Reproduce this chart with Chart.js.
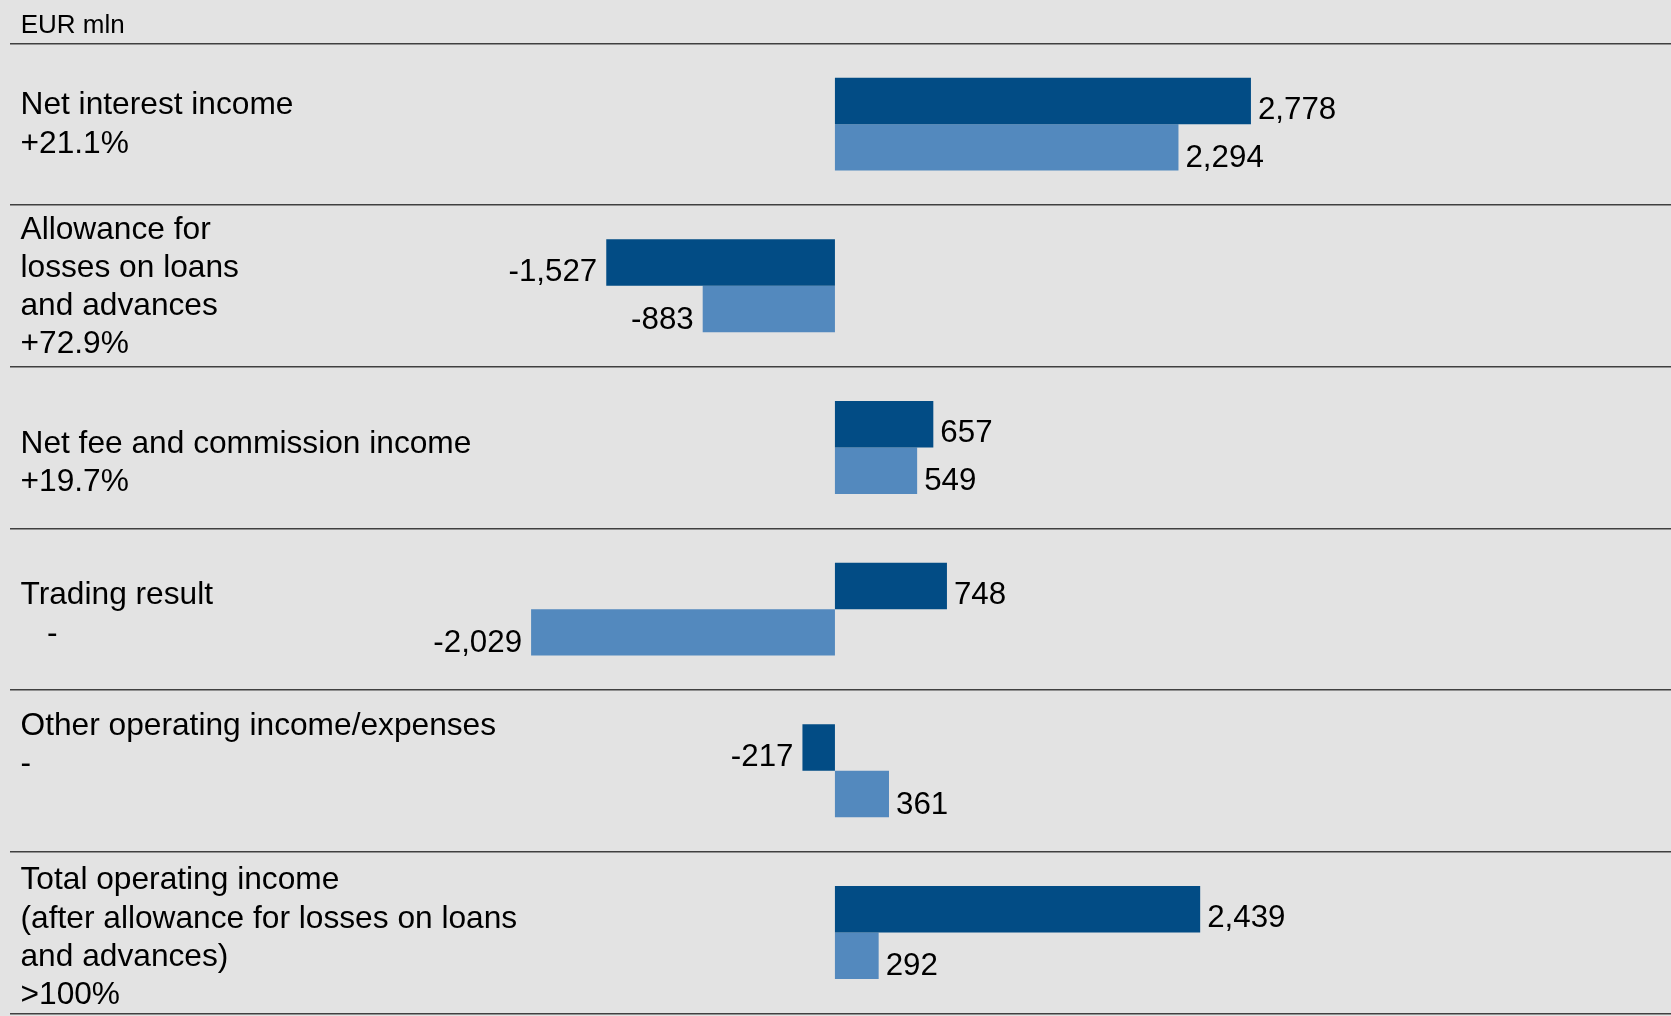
<!DOCTYPE html>
<html lang="en">
<head>
    <meta charset="UTF-8">
    <title>Operating income, EUR mln</title>
    <script src="https://cdn.jsdelivr.net/npm/chart.js"></script>
    <style>
        html, body { margin: 0; padding: 0; background: #e3e3e3; }
        canvas { display: block; }
    </style>
</head>
<body>
    <canvas id="incomeChart" width="1671" height="1016"></canvas>

    <script>
        // row labels (name + change vs previous year)
        const categories = [
            ['Net interest income', '+21.1%'],
            ['Allowance for', 'losses on loans', 'and advances', '+72.9%'],
            ['Net fee and commission income', '+19.7%'],
            ['Trading result', '   -'],
            ['Other operating income/expenses', '-'],
            ['Total operating income', '(after allowance for losses on loans', 'and advances)', '>100%']
        ];
        const currentYear = [2778, -1527, 657, 748, -217, 2439];
        const previousYear = [2294, -883, 549, -2029, 361, 292];
        const unitLabel = 'EUR mln';

        const FONT = "'Liberation Sans', Arial, Helvetica, sans-serif";

        // small vertical nudges of the row label blocks, as in the original slide
        const labelNudge = [-2, -1, 13, 3, -28, 3];
        // value labels sit a bit below the bar middle
        const valueDrop = [9.5, 11];

        // draws the category text on the left, the unit and the bar values
        const textPlugin = {
            id: 'textPlugin',
            afterDatasetsDraw(chart) {
                const ctx = chart.ctx;
                const yScale = chart.scales.y;
                ctx.save();
                ctx.fillStyle = '#000';

                // unit at the top
                ctx.font = '26px ' + FONT;
                ctx.textAlign = 'left';
                ctx.textBaseline = 'alphabetic';
                ctx.fillText(unitLabel, 20.7, 32.7);

                // row labels
                ctx.font = '31.7px ' + FONT;
                const lineH = 38.2;
                chart.data.labels.forEach((lines, i) => {
                    const center = yScale.getPixelForValue(i);
                    let y = center - (lines.length - 1) * lineH / 2 + 11.3 + labelNudge[i];
                    lines.forEach(line => {
                        ctx.fillText(line, 20.5, y);
                        y += lineH;
                    });
                });

                // values next to the bars
                ctx.font = '31.3px ' + FONT;
                ctx.textBaseline = 'middle';
                chart.data.datasets.forEach((ds, di) => {
                    chart.getDatasetMeta(di).data.forEach((bar, i) => {
                        const v = ds.data[i];
                        const txt = v.toLocaleString('en-US');
                        if (v >= 0) {
                            ctx.textAlign = 'left';
                            ctx.fillText(txt, bar.x + 7, bar.y + valueDrop[di]);
                        } else {
                            ctx.textAlign = 'right';
                            ctx.fillText(txt, bar.x - 9, bar.y + valueDrop[di]);
                        }
                    });
                });
                ctx.restore();
            }
        };

        const ctx = document.getElementById('incomeChart').getContext('2d');
        new Chart(ctx, {
            type: 'bar',
            data: {
                labels: categories,
                datasets: [
                    {
                        label: 'Current year',
                        data: currentYear,
                        backgroundColor: '#024c85',
                        categoryPercentage: 0.575,
                        barPercentage: 1.0
                    },
                    {
                        label: 'Previous year',
                        data: previousYear,
                        backgroundColor: '#5389be',
                        categoryPercentage: 0.575,
                        barPercentage: 1.0
                    }
                ]
            },
            options: {
                indexAxis: 'y',
                responsive: false,
                animation: false,
                layout: { padding: { left: 9.5, right: 0, top: 43.3, bottom: 2.7 } },
                plugins: {
                    legend: { display: false },
                    tooltip: { enabled: false }
                },
                scales: {
                    x: {
                        min: -5512,
                        max: 5583,
                        ticks: { display: false, stepSize: 1000 },
                        border: { display: false },
                        grid: {
                            drawTicks: false,
                            lineWidth: 2,
                            color: c => (c.tick && c.tick.value === 0) ? '#6e6e6e' : 'rgba(0,0,0,0)'
                        }
                    },
                    y: {
                        ticks: { display: false },
                        border: { display: false },
                        grid: {
                            offset: true,
                            drawTicks: false,
                            lineWidth: 1.5,
                            color: '#404040'
                        }
                    }
                }
            },
            plugins: [textPlugin]
        });
    </script>
</body>
</html>
